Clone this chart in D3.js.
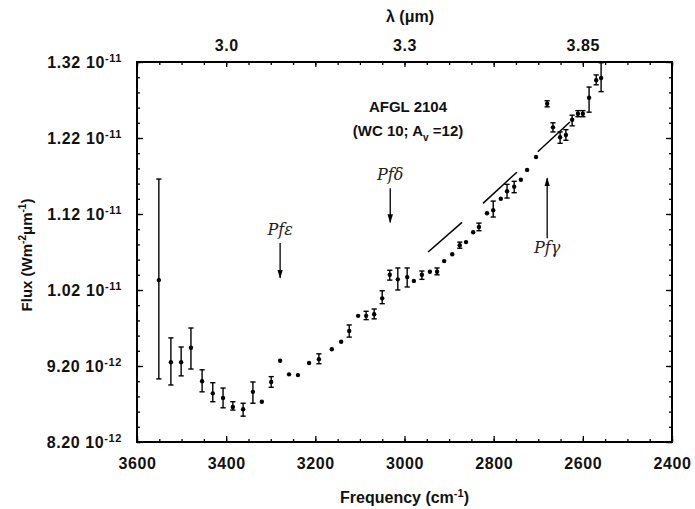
<!DOCTYPE html>
<html>
<head>
<meta charset="utf-8">
<script src="https://cdn.jsdelivr.net/npm/d3@7"></script>
<style>
  body { margin: 0; background: #fff; }
  svg { display: block; }
  .tick line { stroke: #000; stroke-width: 1.3; }
  .domain { display: none; }
</style>
</head>
<body>
<svg id="chart" width="695" height="509" font-family="Liberation Sans, Arial, sans-serif"></svg>
<script>
// Frequency (cm^-1) of each measured point, left to right.
const freq = [3551, 3524, 3501, 3479, 3454, 3430, 3407, 3385, 3362, 3340,
  3320, 3299, 3279, 3259, 3239, 3214, 3192, 3163, 3142, 3124,
  3104, 3086, 3068, 3050, 3033, 3015, 2994, 2979, 2961, 2943,
  2927, 2911, 2893, 2876, 2862, 2846, 2833, 2815, 2801, 2784,
  2770, 2754, 2739, 2725, 2705, 2680, 2667, 2651, 2638, 2624,
  2611, 2600, 2586, 2570, 2559];
// Flux in units of 1e-12 W m^-2 um^-1.
const flux = [10.33, 9.25, 9.25, 9.44, 9.00, 8.84, 8.78, 8.66, 8.63, 8.86,
  8.73, 8.99, 9.27, 9.09, 9.08, 9.24, 9.29, 9.42, 9.52, 9.66,
  9.86, 9.86, 9.88, 10.09, 10.40, 10.34, 10.37, 10.32, 10.40, 10.44,
  10.44, 10.58, 10.67, 10.79, 10.83, 10.96, 11.03, 11.21, 11.25, 11.40,
  11.50, 11.56, 11.65, 11.78, 11.95, 12.65, 12.34, 12.21, 12.24, 12.44,
  12.52, 12.52, 12.73, 12.96, 12.99];
// Error bar ends (null = no visible bar).
const fluxHi = [11.66, 9.57, 9.45, 9.70, 9.15, 8.98, 8.91, 8.73, 8.71, 8.99,
  null, 9.06, null, null, null, null, 9.36, null, null, 9.74,
  null, 9.92, 9.95, 10.19, 10.46, 10.49, 10.49, null, 10.45, null,
  10.49, null, null, 10.83, null, null, 11.08, null, 11.37, null,
  11.59, 11.63, null, null, null, 12.69, 12.40, 12.28, 12.31, 12.50,
  12.56, 12.56, 12.87, 13.03, 13.19];
const fluxLo = [9.03, 8.95, 9.07, 9.16, 8.86, 8.73, 8.65, 8.62, 8.54, 8.71,
  null, 8.92, null, null, null, null, 9.23, null, null, 9.58,
  null, 9.81, 9.82, 10.02, 10.33, 10.20, 10.24, null, 10.34, null,
  10.40, null, null, 10.75, null, null, 10.98, null, 11.16, null,
  11.41, 11.48, null, null, null, 12.61, 12.28, 12.13, 12.17, 12.36,
  12.48, 12.48, 12.54, 12.90, 12.81];

// Continuum line pieces.
const contFreq = [[2947, 2871], [2824, 2748], [2701, 2629]];
const contFlux = [[10.70, 11.09], [11.34, 11.75], [12.02, 12.41]];

// Hydrogen line markers (arrow from -> to, in flux units).
const lineNames = ["Pfε", "Pfδ", "Pfγ"];
const lineFreq = [3279, 3032, 2680];
const lineFrom = [10.82, 11.54, 10.88];
const lineTo = [10.36, 11.09, 11.67];

// Ticks.
const freqMajorTicks = [3600, 3400, 3200, 3000, 2800, 2600, 2400];
const freqMinorTicks = d3.range(2400, 3601, 50);
const fluxMajorTicks = [8.2, 9.2, 10.2, 11.2, 12.2, 13.2];
const fluxMinorTicks = d3.range(8.2, 13.21, 0.2);
const lambdaTickFreqs = [3400, 3000, 2600];
const lambdaTickLabels = ["3.0", "3.3", "3.85"];

const width = 695;
const height = 509;
const margin = {top: 62, right: 23, bottom: 67, left: 137};
const innerWidth = width - margin.left - margin.right;
const innerHeight = height - margin.top - margin.bottom;

const svg = d3.select("#chart");
const g = svg.append("g").attr("transform", `translate(${margin.left}, ${margin.top})`);

const xScale = d3.scaleLinear().domain([3600, 2400]).range([0, innerWidth]);
const yScale = d3.scaleLinear().domain([8.2, 13.2]).range([innerHeight, 0]);

// Ticks only (no labels), pointing inward.
function tickOnly(sel, axis) {
  sel.call(axis.tickSizeOuter(0));
  sel.selectAll("text").remove();
}

// Tick label font set on the axis group itself.
function labelFont(sel) {
  sel.attr("font-size", 16)
    .attr("font-weight", "bold")
    .attr("font-family", "Liberation Sans, Arial, sans-serif")
    .attr("letter-spacing", 0.6);
  sel.selectAll("text").attr("fill", "#111");
}

// Minor ticks on all four sides.

tickOnly(g.append("g").attr("transform", `translate(0, ${innerHeight})`),
  d3.axisBottom(xScale).tickValues(freqMinorTicks).tickSizeInner(-3));
tickOnly(g.append("g"),
  d3.axisTop(xScale).tickValues(freqMinorTicks).tickSizeInner(-3));
tickOnly(g.append("g"),
  d3.axisLeft(yScale).tickValues(fluxMinorTicks).tickSizeInner(-3));
tickOnly(g.append("g").attr("transform", `translate(${innerWidth}, 0)`),
  d3.axisRight(yScale).tickValues(fluxMinorTicks).tickSizeInner(-3));
tickOnly(g.append("g").attr("transform", `translate(${innerWidth}, 0)`),
  d3.axisRight(yScale).tickValues(fluxMajorTicks).tickSizeInner(-6));
tickOnly(g.append("g"),
  d3.axisTop(xScale).tickValues(freqMajorTicks).tickSizeInner(-5));

// Major ticks and labels.

g.append("g").attr("transform", `translate(0, ${innerHeight})`)
  .call(d3.axisBottom(xScale).tickValues(freqMajorTicks).tickSizeInner(-6).tickSizeOuter(0).tickPadding(16)
    .tickFormat(d3.format("d")))
  .call(labelFont);
g.append("g")
  .call(d3.axisTop(xScale).tickValues(lambdaTickFreqs).tickSizeInner(0).tickSizeOuter(0).tickPadding(11)
    .tickFormat((d, i) => lambdaTickLabels[i]))
  .call(labelFont);
const gYAxis = g.append("g")
  .call(d3.axisLeft(yScale).tickValues(fluxMajorTicks).tickSizeInner(-6).tickSizeOuter(0).tickPadding(15))
  .call(labelFont);

// "1.32 10^-11" style labels.
gYAxis.selectAll(".tick text").text(null).each(function(d) {
  const v = d * 1e-12;
  const e = Math.floor(Math.log10(v) + 1e-9);
  const m = v / Math.pow(10, e);
  const t = d3.select(this);
  t.append("tspan").text(m.toFixed(2) + " 10");
  t.append("tspan").attr("dy", "-0.5em").attr("font-size", "11px").text(e);
});

// Frame.
g.append("rect")
  .attr("width", innerWidth)
  .attr("height", innerHeight)
  .attr("fill", "none")
  .attr("stroke", "#000")
  .attr("stroke-width", 2);

// Axis titles.

const titleText = (sel, size) => sel
  .attr("font-size", size)
  .attr("font-weight", "bold")
  .attr("fill", "#111");

svg.append("text")
  .call(titleText, 16)
  .attr("x", margin.left + innerWidth / 2)
  .attr("y", 503)
  .attr("text-anchor", "middle")
  .call((t) => {
    t.append("tspan").text("Frequency (cm");
    t.append("tspan").attr("dy", -6).attr("font-size", 11).text("-1");
    t.append("tspan").attr("dy", 6).text(")");
  });

svg.append("text")
  .call(titleText, 16)
  .attr("x", 410)
  .attr("y", 22)
  .attr("text-anchor", "middle")
  .text("λ (μm)");

svg.append("text")
  .call(titleText, 15)
  .attr("transform", "translate(32, 255) rotate(-90)")
  .attr("text-anchor", "middle")
  .call((t) => {
    t.append("tspan").text("Flux (Wm");
    t.append("tspan").attr("dy", -6).attr("font-size", 10).text("-2");
    t.append("tspan").attr("dy", 6).text("μm");
    t.append("tspan").attr("dy", -6).attr("font-size", 10).text("-1");
    t.append("tspan").attr("dy", 6).text(")");
  });

// Object label.

g.append("text")
  .call(titleText, 15)
  .attr("x", 408 - margin.left).attr("y", 112 - margin.top)
  .attr("text-anchor", "middle")
  .text("AFGL 2104");
g.append("text")
  .call(titleText, 15)
  .attr("x", 408 - margin.left).attr("y", 136 - margin.top)
  .attr("text-anchor", "middle")
  .call((t) => {
    t.append("tspan").text("(WC 10; A");
    t.append("tspan").attr("dy", 5).attr("font-size", 10).text("v");
    t.append("tspan").attr("dy", -5).text(" =12)");
  });

// Continuum pieces.

g.append("g").selectAll("line")
  .data(contFreq)
  .join("line")
  .attr("x1", (d) => xScale(d[0]))
  .attr("x2", (d) => xScale(d[1]))
  .attr("y1", (d, i) => yScale(contFlux[i][0]))
  .attr("y2", (d, i) => yScale(contFlux[i][1]))
  .attr("stroke", "#000")
  .attr("stroke-width", 1.5);

// Error bars and points.

const points = freq.map((f, i) => ({f: f, v: flux[i], hi: fluxHi[i], lo: fluxLo[i]}));
const withErr = points.filter((p) => p.hi !== null);
const capW = 2.6;

const gErr = g.append("g").attr("stroke", "#000").attr("stroke-width", 1.4);
gErr.selectAll(".Bar").data(withErr).join("line")
  .attr("class", "Bar")
  .attr("x1", (p) => xScale(p.f)).attr("x2", (p) => xScale(p.f))
  .attr("y1", (p) => yScale(p.hi)).attr("y2", (p) => yScale(p.lo));
gErr.selectAll(".CapHi").data(withErr).join("line")
  .attr("class", "CapHi")
  .attr("x1", (p) => xScale(p.f) - capW).attr("x2", (p) => xScale(p.f) + capW)
  .attr("y1", (p) => yScale(p.hi)).attr("y2", (p) => yScale(p.hi));
gErr.selectAll(".CapLo").data(withErr).join("line")
  .attr("class", "CapLo")
  .attr("x1", (p) => xScale(p.f) - capW).attr("x2", (p) => xScale(p.f) + capW)
  .attr("y1", (p) => yScale(p.lo)).attr("y2", (p) => yScale(p.lo));

g.append("g").selectAll("circle")
  .data(points)
  .join("circle")
  .attr("cx", (p) => xScale(p.f))
  .attr("cy", (p) => yScale(p.v))
  .attr("r", 2.2)
  .attr("fill", "#000");

// Line identification arrows.

svg.append("defs").append("marker")
  .attr("id", "head")
  .attr("viewBox", "0 0 10 10")
  .attr("refX", 9).attr("refY", 5)
  .attr("markerWidth", 7).attr("markerHeight", 7)
  .attr("orient", "auto")
  .append("path")
  .attr("d", "M0,2 L10,5 L0,8 Z")
  .attr("fill", "#000");

const gLines = g.append("g");
lineNames.forEach((name, i) => {
  const xx = xScale(lineFreq[i]);
  gLines.append("line")
    .attr("x1", xx).attr("x2", xx)
    .attr("y1", yScale(lineFrom[i])).attr("y2", yScale(lineTo[i]))
    .attr("stroke", "#000").attr("stroke-width", 1.3)
    .attr("marker-end", "url(#head)");
  const up = lineTo[i] > lineFrom[i];
  gLines.append("text")
    .attr("x", xx)
    .attr("y", up ? yScale(lineFrom[i]) + 15 : yScale(lineFrom[i]) - 8)
    .attr("text-anchor", "middle")
    .attr("font-family", "DejaVu Serif, serif")
    .attr("font-style", "italic")
    .attr("font-size", 16)
    .attr("fill", "#222")
    .text(name);
});
</script>
</body>
</html>
